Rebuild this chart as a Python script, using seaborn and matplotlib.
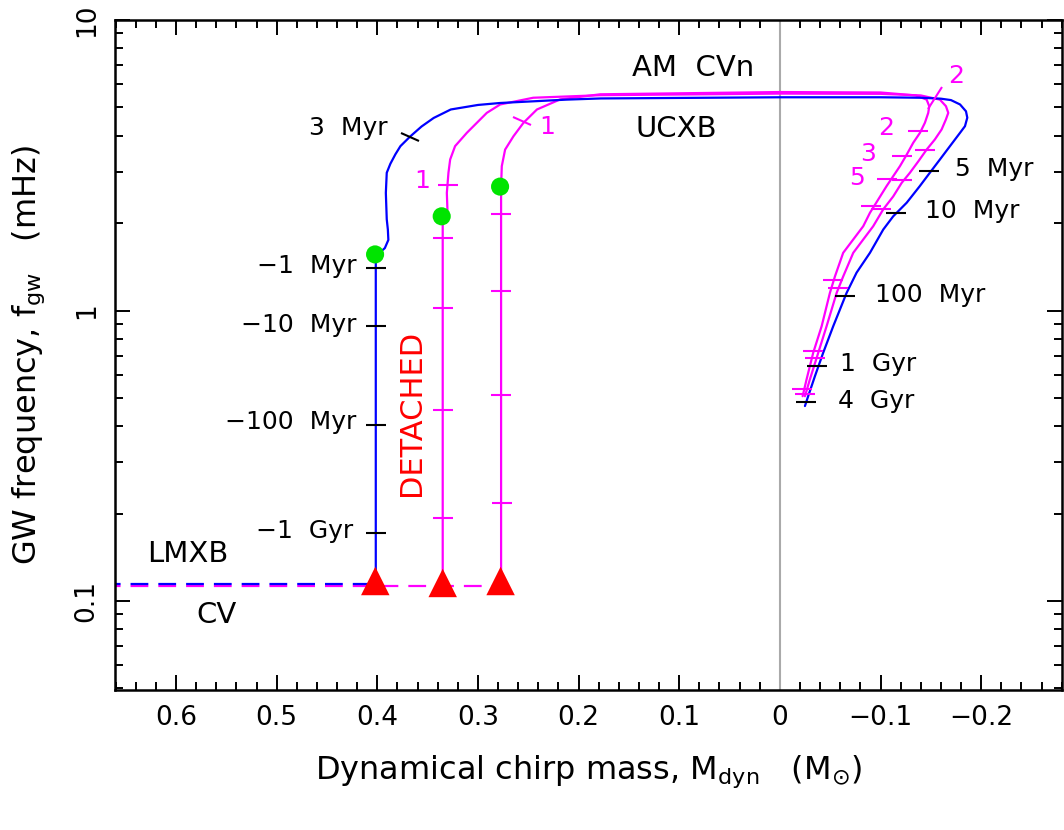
import numpy as np
import pandas as pd
import matplotlib
matplotlib.use("Agg")
import matplotlib.pyplot as plt
import seaborn as sns
from matplotlib.markers import MarkerStyle
from matplotlib.transforms import Affine2D
from matplotlib.ticker import MultipleLocator, LogLocator, NullFormatter, FixedLocator, FixedFormatter

# ---------------- data ----------------
# blue track (heaviest donor)
blue_x = [0.4015, 0.4015, 0.4015, 0.3960, 0.3925, 0.3890, 0.3895, 0.3906, 0.3915, 0.3906, 0.3870,
          0.3820, 0.3770, 0.3674, 0.3560, 0.3440, 0.3270, 0.3000, 0.2780, 0.2120, 0.1780, 0.0000,
          -0.1000, -0.1400, -0.1600, -0.1700, -0.1790, -0.1849, -0.1862, -0.1839, -0.1790, -0.1690,
          -0.1590, -0.1490, -0.1390, -0.1260, -0.1126, -0.1027, -0.0895, -0.0762, -0.0663, -0.0530,
          -0.0430, -0.0348, -0.0281, -0.0249]
blue_f = [0.1150, 1.000, 1.56, 1.60, 1.64, 1.75, 1.90, 2.06, 2.54, 2.98, 3.20,
          3.45, 3.68, 3.97, 4.30, 4.60, 4.92, 5.10, 5.18, 5.32, 5.37, 5.42,
          5.42, 5.40, 5.36, 5.30, 5.12, 4.85, 4.61, 4.31, 4.09, 3.68,
          3.31, 2.98, 2.68, 2.35, 2.11, 1.90, 1.58, 1.35, 1.15, 0.883,
          0.715, 0.594, 0.507, 0.469]

# magenta track A (x ~ 0.335)
magA_x = [0.3350, 0.3350, 0.3320, 0.3303, 0.3309, 0.3293, 0.3276, 0.3227, 0.3110, 0.2912, 0.2779,
          0.2451, 0.1785, 0.0000, -0.1000, -0.1400, -0.1590, -0.1650, -0.1673, -0.1650, -0.1607,
          -0.1540, -0.1458, -0.1375, -0.1292, -0.1210, -0.1126, -0.1027, -0.0927, -0.0729, -0.0629,
          -0.0564, -0.0464, -0.0381, -0.0298, -0.0249]
magA_f = [0.1125, 2.08, 2.14, 2.22, 2.54, 2.98, 3.31, 3.68, 4.09, 4.79, 5.12,
          5.40, 5.51, 5.58, 5.57, 5.50, 5.32, 5.05, 4.79, 4.55, 4.20,
          3.88, 3.58, 3.26, 2.98, 2.75, 2.47, 2.23, 1.95, 1.58, 1.31,
          1.15, 0.883, 0.715, 0.579, 0.507]

# magenta track B (x ~ 0.277)
magB_x = [0.2770, 0.2770, 0.2763, 0.2730, 0.2647, 0.2547, 0.2414, 0.2183, 0.1785, 0.0000, -0.1000,
          -0.1350, -0.1458, -0.1484, -0.1474, -0.1441, -0.1392, -0.1325, -0.1260, -0.1193, -0.1126,
          -0.1060, -0.0977, -0.0895, -0.0828, -0.0629, -0.0547, -0.0497, -0.0415, -0.0331, -0.0265,
          -0.0226]
magB_f = [0.1125, 2.67, 3.14, 3.58, 3.98, 4.43, 4.92, 5.33, 5.55, 5.65, 5.63,
          5.50, 5.32, 5.05, 4.79, 4.43, 4.09, 3.78, 3.44, 3.14, 2.90,
          2.68, 2.41, 2.17, 1.95, 1.58, 1.31, 1.15, 0.883, 0.715, 0.579,
          0.507]

# pre-contact (dashed) tracks
lmxb_x = [0.70, 0.4015]
lmxb_f = [0.114, 0.114]
cv_x = [0.70, 0.277]
cv_f = [0.1125, 0.1125]

# onset of mass transfer (triangles) and end of detached phase (green dots)
tri_x = [0.4020, 0.3350, 0.2775]
tri_f = [0.1172, 0.1154, 0.1172]
dot_x = [0.4022, 0.3360, 0.2780]
dot_f = [1.56, 2.11, 2.67]

# time ticks along the tracks
blue_tick_x = [0.4015, 0.4015, 0.4015, 0.4015, -0.148, -0.115, -0.065, -0.037, -0.026]
blue_tick_f = [1.40, 0.883, 0.403, 0.172, 3.02, 2.17, 1.12, 0.643, 0.483]
blue_diag_x = [0.3674]
blue_diag_f = [3.97]
magA_tick_x = [0.3293, 0.335, 0.335, 0.335, 0.335, -0.144, -0.121, -0.100, -0.058, -0.035, -0.025]
magA_tick_f = [2.70, 1.77, 1.02, 0.456, 0.193, 3.58, 2.82, 2.23, 1.20, 0.688, 0.514]
magB_tick_x = [0.277, 0.277, 0.277, 0.2765, -0.137, -0.121, -0.106, -0.091, -0.053, -0.033, -0.022]
magB_tick_f = [2.15, 1.165, 0.511, 0.217, 4.14, 3.40, 2.84, 2.29, 1.27, 0.724, 0.535]
magB_diag1_x = [0.2566]
magB_diag1_f = [4.48]
magB_diag2_x = [-0.1546]
magB_diag2_f = [5.37]

# axis ticks
x_major = [0.6, 0.5, 0.4, 0.3, 0.2, 0.1, 0.0, -0.1, -0.2]
x_labels = ["0.6", "0.5", "0.4", "0.3", "0.2", "0.1", "0", "\u22120.1", "\u22120.2"]
y_major = [0.1, 1, 10]
y_labels = ["0.1", "1", "10"]

# ---------------- plot ----------------
sns.set_theme(style="ticks")
plt.rcParams["font.family"] = ["DejaVu Sans"]
plt.rcParams["mathtext.fontset"] = "dejavusans"
plt.rcParams["text.color"] = "black"
plt.rcParams["axes.labelcolor"] = "black"
plt.rcParams["xtick.color"] = "black"
plt.rcParams["ytick.color"] = "black"
plt.rcParams["xtick.labelcolor"] = "black"
plt.rcParams["ytick.labelcolor"] = "black"

BLUE = "#0000ff"
MAG = "#ff00ff"
GREEN = "#00e400"
RED = "#ff0000"

fig = plt.figure(figsize=(10.64, 8.30), dpi=100)
ax = fig.add_axes([115 / 1064, 1 - 690 / 830, (1062 - 115) / 1064, (690 - 20) / 830])
ax.set_yscale("log")
ax.set_xlim(0.6606, -0.2803)
ax.set_ylim(0.0494, 10)

ax.axvline(0.0, color="#aaaaaa", lw=1.5, zorder=1)

lw = 1.6
sns.lineplot(x=cv_x, y=cv_f, ax=ax, color=MAG, lw=lw, linestyle=(0, (8, 4.5)), sort=False, estimator=None, zorder=2)
sns.lineplot(x=lmxb_x, y=lmxb_f, ax=ax, color=BLUE, lw=lw, linestyle=(0, (8, 4.5)), sort=False, estimator=None, zorder=2)
sns.lineplot(x=magA_x, y=magA_f, ax=ax, color=MAG, lw=lw, sort=False, estimator=None, zorder=3)
sns.lineplot(x=magB_x, y=magB_f, ax=ax, color=MAG, lw=lw, sort=False, estimator=None, zorder=3)
sns.lineplot(x=blue_x, y=blue_f, ax=ax, color=BLUE, lw=lw, sort=False, estimator=None, zorder=3)

# time ticks
tick_kw = dict(linestyle="none", markeredgewidth=1.5, zorder=4)
ax.plot(blue_tick_x, blue_tick_f, marker="_", markersize=14, color="black", **tick_kw)
ax.plot(magA_tick_x, magA_tick_f, marker="_", markersize=14, color=MAG, **tick_kw)
ax.plot(magB_tick_x, magB_tick_f, marker="_", markersize=14, color=MAG, **tick_kw)
ax.plot(blue_diag_x, blue_diag_f, marker=MarkerStyle("_", transform=Affine2D().rotate_deg(-25)),
        markersize=15, color="black", **tick_kw)
ax.plot(magB_diag1_x, magB_diag1_f, marker=MarkerStyle("_", transform=Affine2D().rotate_deg(-25)),
        markersize=15, color=MAG, **tick_kw)
ax.plot(magB_diag2_x, magB_diag2_f, marker=MarkerStyle("_", transform=Affine2D().rotate_deg(56)),
        markersize=19, color=MAG, **tick_kw)

sns.scatterplot(x=dot_x, y=dot_f, ax=ax, color=GREEN, s=170, edgecolor="none", zorder=5)
sns.scatterplot(x=tri_x, y=tri_f, ax=ax, color=RED, marker="^", s=420, edgecolor="none", zorder=6)

# text annotations
fs = 18
ax.text(0.086, 6.83, "AM  CVn", fontsize=21, ha="center", va="center")
ax.text(0.1027, 4.20, "UCXB", fontsize=21, ha="center", va="center")
ax.text(0.629, 0.1457, "LMXB", fontsize=21, ha="left", va="center")
ax.text(0.5794, 0.0898, "CV", fontsize=21, ha="left", va="center")
ax.text(0.3664, 0.4456, "DETACHED", fontsize=22, color=RED, rotation=90, ha="center", va="center")

ax.text(0.3900, 4.26, "3  Myr", fontsize=fs, ha="right", va="center")
ax.text(0.4204, 1.42, "\u22121  Myr", fontsize=fs, ha="right", va="center")
ax.text(0.4204, 0.895, "\u221210  Myr", fontsize=fs, ha="right", va="center")
ax.text(0.4204, 0.412, "\u2212100  Myr", fontsize=fs, ha="right", va="center")
ax.text(0.4240, 0.174, "\u22121  Gyr", fontsize=fs, ha="right", va="center")

ax.text(-0.174, 3.06, "5  Myr", fontsize=fs, ha="left", va="center")
ax.text(-0.1441, 2.20, "10  Myr", fontsize=fs, ha="left", va="center")
ax.text(-0.0944, 1.135, "100  Myr", fontsize=fs, ha="left", va="center")
ax.text(-0.0596, 0.652, "1  Gyr", fontsize=fs, ha="left", va="center")
ax.text(-0.058, 0.487, "4  Gyr", fontsize=fs, ha="left", va="center")

ax.text(0.3558, 2.79, "1", fontsize=fs, color=MAG, ha="center", va="center")
ax.text(0.2315, 4.27, "1", fontsize=fs, color=MAG, ha="center", va="center")
ax.text(-0.1756, 6.41, "2", fontsize=fs, color=MAG, ha="center", va="center")
ax.text(-0.106, 4.26, "2", fontsize=fs, color=MAG, ha="center", va="center")
ax.text(-0.0878, 3.45, "3", fontsize=fs, color=MAG, ha="center", va="center")
ax.text(-0.0762, 2.86, "5", fontsize=fs, color=MAG, ha="center", va="center")

# axes styling
ax.xaxis.set_major_locator(FixedLocator(x_major))
ax.xaxis.set_major_formatter(FixedFormatter(x_labels))
ax.xaxis.set_minor_locator(MultipleLocator(0.02))
ax.yaxis.set_major_locator(FixedLocator(y_major))
ax.yaxis.set_major_formatter(FixedFormatter(y_labels))
ax.yaxis.set_minor_locator(LogLocator(base=10, subs=np.arange(2, 10)))
ax.yaxis.set_minor_formatter(NullFormatter())

ax.tick_params(which="both", direction="in", top=True, right=True, width=1.4, colors="black",
               labelcolor="black")
ax.tick_params(which="major", length=11, labelsize=19, pad=11)
ax.tick_params(which="minor", length=6)
for lab in ax.get_yticklabels():
    lab.set_rotation(90)
    lab.set_va("center")
for sp in ax.spines.values():
    sp.set_linewidth(1.8)
    sp.set_color("black")

ax.set_xlabel(r"Dynamical chirp mass, M$_{\rm dyn}$   (M$_{\odot}$)", fontsize=23, color="black")
ax.set_ylabel(r"GW frequency, f$_{\rm gw}$   (mHz)", fontsize=23, color="black")
ax.xaxis.set_label_coords(0.5, -0.095)
ax.yaxis.set_label_coords(-0.072, 0.5)

fig.savefig("out.png", dpi=100)
